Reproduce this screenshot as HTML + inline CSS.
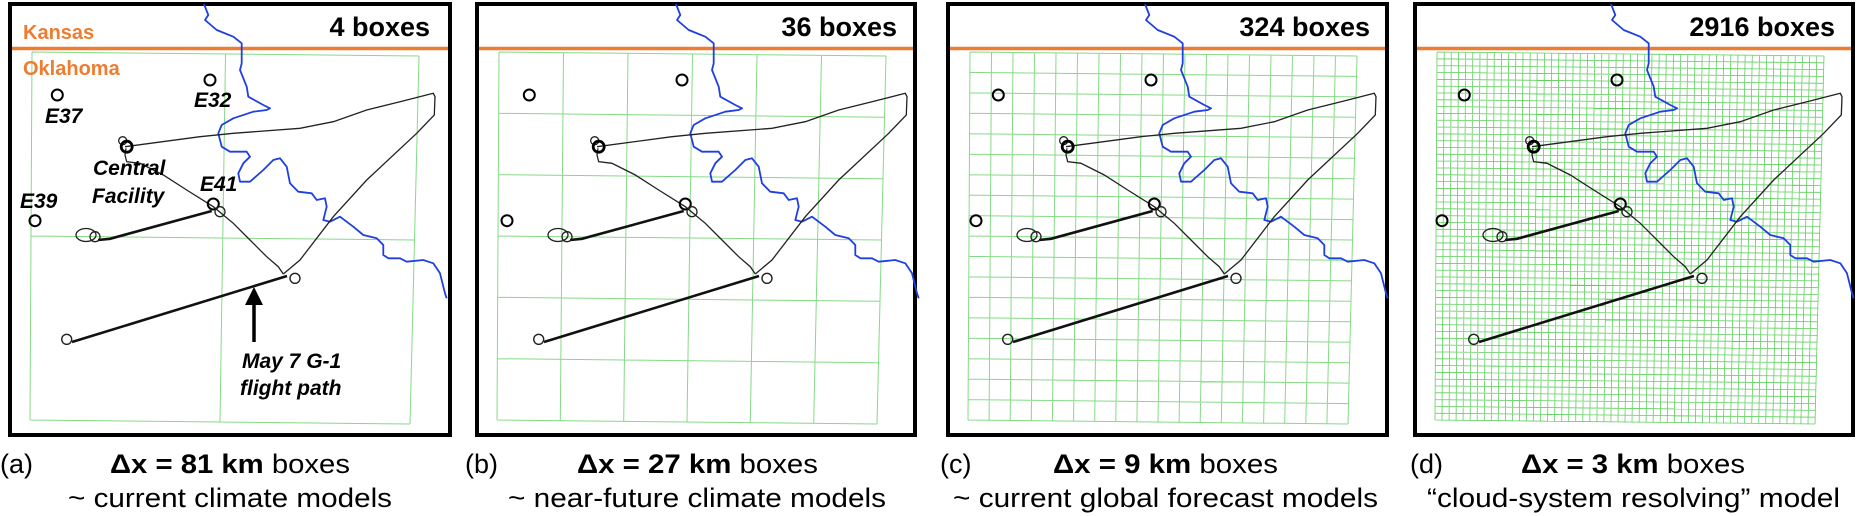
<!DOCTYPE html>
<html><head><meta charset="utf-8"><style>
html,body{margin:0;padding:0;background:#fff;}
svg{display:block;}
.lbl{font-family:"Liberation Sans",Arial,sans-serif;font-weight:bold;font-style:italic;font-size:21px;fill:#000;}
.st{font-family:"Liberation Sans",Arial,sans-serif;font-weight:bold;font-size:20px;fill:#ed7d31;}
.bx{font-family:"Liberation Sans",Arial,sans-serif;font-weight:bold;font-size:27px;fill:#000;}
.cap{font-family:"Liberation Sans",Arial,sans-serif;font-size:27px;fill:#000;}
</style></head><body>
<svg id="s" width="1857" height="516" viewBox="0 0 1857 516" xmlns="http://www.w3.org/2000/svg">
<defs>
<g id="content">
  <path d="M196,4 L200.3,15 L197,20 L208.7,30 L225.3,36.7 L233.7,43.3 L233.7,63.3 L232,70 L238.7,86.7 L240.3,96.7 L255.3,105 L262,108.3 L258.7,110 L245.3,111.7 L225.3,118.3 L213.7,125 L210.3,133.3 L213.7,146.7 L222,151.7 L238.7,151.7 L242,156.7 L235.3,163.3 L230.3,173.3 L232,181.7 L242,181.7 L255.3,170 L265.3,160 L272,158.3 L278.7,166.7 L282,183.3 L290.3,191.7 L303.7,193.3 L308.7,200 L317,198.3 L318.7,206.7 L315.3,220 L322,221.7 L332,216.7 L345.3,226.7 L355.3,235 L368.7,238.3 L375.3,245 L375.3,255 L380.3,258.3 L392,258.3 L398.7,261.7 L415.3,260 L425.3,263.3 L432,273.3 L437,293.3 L438.7,298.3" fill="none" stroke="#1f3fe0" stroke-width="1.8" stroke-linejoin="round"/>
  <path d="M117,146.7 L192,136.7 L225.3,133.3 L292,128.3 L325.3,121.7 L358.7,110 L392,101.7 L425.3,93.3 L427,96.7 L426.3,115 L408.7,133.3 L358.7,180 L325.3,216.7 L292,260 L275.3,274" fill="none" stroke="#222" stroke-width="1.3"/>
  <path d="M275.3,274 L270.3,266.7 L258.7,256.7 L242,240 L225.3,223.3 L205.3,206.7 L178.7,190 L155.3,175 L132,163.3 L118.7,161.7 L117,155 L118,148.3" fill="none" stroke="#222" stroke-width="1.3"/>
  <path d="M203.7,211 L102,238.8 L90,240" fill="none" stroke="#111" stroke-width="2.6"/>
  <ellipse cx="78" cy="235" rx="10" ry="6.5" fill="none" stroke="#222" stroke-width="1.3"/>
  <circle cx="87" cy="236.7" r="5" fill="none" stroke="#222" stroke-width="1.3"/>
  <path d="M279,276 L64,342" fill="none" stroke="#111" stroke-width="2.6"/>
  <circle cx="58.7" cy="339.3" r="5" fill="none" stroke="#222" stroke-width="1.4"/>
  <circle cx="49.3" cy="95" r="5.5" fill="none" stroke="#000" stroke-width="2"/>
  <circle cx="202" cy="80" r="5.5" fill="none" stroke="#000" stroke-width="2"/>
  <circle cx="27" cy="220.7" r="5.5" fill="none" stroke="#000" stroke-width="2"/>
  <circle cx="205.3" cy="204" r="5.5" fill="none" stroke="#000" stroke-width="2"/>
  <circle cx="212" cy="211.7" r="5" fill="none" stroke="#222" stroke-width="1.3"/>
  <circle cx="114.7" cy="140.7" r="4" fill="none" stroke="#222" stroke-width="1.3"/>
  <circle cx="118.7" cy="146.7" r="5.5" fill="none" stroke="#000" stroke-width="2.8"/>
  <circle cx="287" cy="278.3" r="5" fill="none" stroke="#222" stroke-width="1.4"/>
</g>
</defs>

<g fill="none" stroke="#000" stroke-width="4">
  <rect x="10" y="4" width="440" height="431"/>
  <rect x="477" y="4" width="438" height="431"/>
  <rect x="948" y="4" width="439" height="431"/>
  <rect x="1415" y="4" width="438" height="431"/>
</g>
<g stroke="#ed7d31" stroke-width="3.5">
  <line x1="12" y1="48.5" x2="448" y2="48.5"/>
  <line x1="479" y1="48.5" x2="913" y2="48.5"/>
  <line x1="950" y1="48.5" x2="1385" y2="48.5"/>
  <line x1="1417" y1="48.5" x2="1851" y2="48.5"/>
</g>

<g id="grids" stroke="#86da86" fill="none"></g>

<use href="#content" transform="translate(8,0)"/>
<use href="#content" transform="translate(480,0)"/>
<use href="#content" transform="translate(949,0)"/>
<use href="#content" transform="translate(1415,0)"/>

<text class="bx" x="430" y="36" text-anchor="end">4 boxes</text>
<text class="bx" x="897" y="36" text-anchor="end">36 boxes</text>
<text class="bx" x="1370" y="36" text-anchor="end">324 boxes</text>
<text class="bx" x="1835" y="36" text-anchor="end">2916 boxes</text>

<text class="st" x="23" y="39">Kansas</text>
<text class="st" x="23" y="75">Oklahoma</text>
<text class="lbl" x="45" y="123">E37</text>
<text class="lbl" x="194" y="107">E32</text>
<text class="lbl" x="93" y="175">Central</text>
<text class="lbl" x="92" y="203">Facility</text>
<text class="lbl" x="200" y="191">E41</text>
<text class="lbl" x="20" y="208">E39</text>
<text class="lbl" x="242" y="368">May 7 G-1</text>
<text class="lbl" x="240" y="395">flight path</text>
<line x1="254" y1="342" x2="254" y2="302" stroke="#000" stroke-width="3.5"/>
<polygon points="245,305 263,305 254,287" fill="#000"/>

<text class="cap" x="0" y="473">(a)</text>
<text class="cap" x="110" y="473" textLength="240" lengthAdjust="spacingAndGlyphs"><tspan font-weight="bold">Δx = 81 km</tspan> boxes</text>
<text class="cap" x="68" y="507" textLength="324" lengthAdjust="spacingAndGlyphs">~ current climate models</text>

<text class="cap" x="465" y="473">(b)</text>
<text class="cap" x="577" y="473" textLength="241" lengthAdjust="spacingAndGlyphs"><tspan font-weight="bold">Δx = 27 km</tspan> boxes</text>
<text class="cap" x="508" y="507" textLength="378" lengthAdjust="spacingAndGlyphs">~ near-future climate models</text>

<text class="cap" x="940" y="473">(c)</text>
<text class="cap" x="1053" y="473" textLength="225" lengthAdjust="spacingAndGlyphs"><tspan font-weight="bold">Δx = 9 km</tspan> boxes</text>
<text class="cap" x="953" y="507" textLength="425" lengthAdjust="spacingAndGlyphs">~ current global forecast models</text>

<text class="cap" x="1410" y="473">(d)</text>
<text class="cap" x="1521" y="473" textLength="224" lengthAdjust="spacingAndGlyphs"><tspan font-weight="bold">Δx = 3 km</tspan> boxes</text>
<text class="cap" x="1427" y="507" textLength="413" lengthAdjust="spacingAndGlyphs">“cloud-system resolving” model</text>
</svg>
<script>
(function(){
  var g=document.getElementById('grids');
  var NS='http://www.w3.org/2000/svg';
  var panels=[[8,2,1],[475,6,1],[946,18,1],[1413,54,0.8]];
  panels.forEach(function(p){
    var ox=p[0],n=p[1],sw=p[2];
    var TL=[ox+24,52],TR=[ox+411,56],BR=[ox+402,424],BL=[ox+22,420];
    function L(a,b,t){return [a[0]+(b[0]-a[0])*t,a[1]+(b[1]-a[1])*t];}
    var d='';
    for(var i=0;i<=n;i++){
      var t=i/n;
      var a=L(TL,TR,t),b=L(BL,BR,t);
      d+='M'+a[0].toFixed(1)+','+a[1].toFixed(1)+'L'+b[0].toFixed(1)+','+b[1].toFixed(1);
      a=L(TL,BL,t);b=L(TR,BR,t);
      d+='M'+a[0].toFixed(1)+','+a[1].toFixed(1)+'L'+b[0].toFixed(1)+','+b[1].toFixed(1);
    }
    var path=document.createElementNS(NS,'path');
    path.setAttribute('d',d);
    path.setAttribute('stroke-width',sw);
    if(n>50) path.setAttribute('stroke','#5fcf5f');
    g.appendChild(path);
  });
})();
</script>
</body></html>
